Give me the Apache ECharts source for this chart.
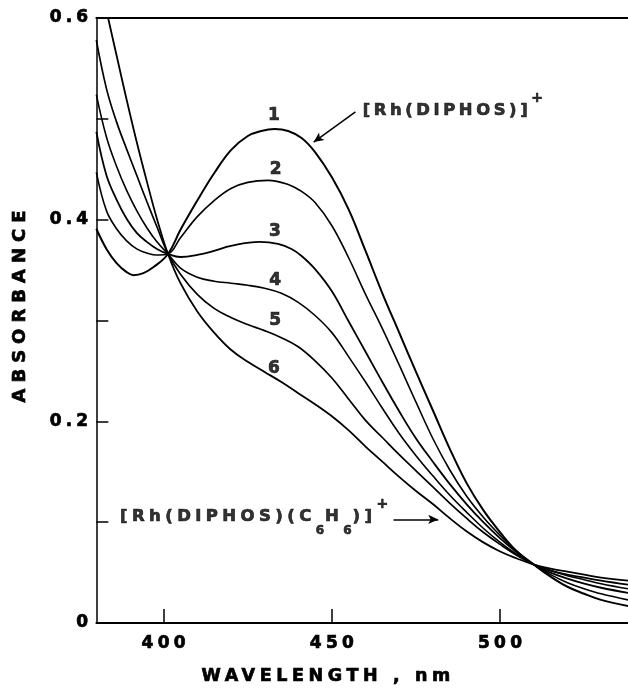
<!DOCTYPE html>
<html><head><meta charset="utf-8">
<script src="https://cdn.jsdelivr.net/npm/echarts@6/dist/echarts.min.js"></script>
<style>html,body{margin:0;padding:0;background:#fff}#c{width:628px;height:693px}</style>
</head><body><div id="c"></div>
<script>
// letter spacing for the wide, spaced bold lettering of the original figure (keyed by font size)
var SPACING = {'17': '4.2px', '18': '6px', '17.5': '4.6px', '16.4': '3.6px', '16.5': '4.4px'};
(function(){
  var proto = CanvasRenderingContext2D.prototype;
  var d = Object.getOwnPropertyDescriptor(proto,'font');
  if (!d || !('letterSpacing' in proto)) return;
  Object.defineProperty(proto,'font',{configurable:true,
    get:function(){return d.get.call(this);},
    set:function(v){
      d.set.call(this,v);
      var s='0px';
      if(/bold/.test(v)){
        var m=/([\d.]+)px/.exec(v);
        s = (m && SPACING[m[1]]) || '1px';
      }
      this.letterSpacing=s;
    }});
})();

var wl1 = [380, 383, 386, 389, 391, 394, 397, 401.3, 405, 410, 415, 420, 425, 429, 433, 437, 441, 445, 450, 455, 460, 465, 470, 475, 480, 485, 490, 495, 500, 505, 510, 515, 520, 525, 530, 538];
var abs1 = [0.391, 0.371, 0.357, 0.348, 0.345, 0.347, 0.353, 0.366, 0.390, 0.419, 0.446, 0.469, 0.483, 0.488, 0.490, 0.488, 0.481, 0.467, 0.442, 0.410, 0.369, 0.327, 0.288, 0.249, 0.211, 0.173, 0.139, 0.112, 0.090, 0.071, 0.058, 0.046, 0.036, 0.029, 0.023, 0.017];
var wl2 = [380, 383, 386, 389, 392, 395, 398, 401.3, 405, 410, 415, 420, 425, 431, 437, 441, 445, 450, 455, 460, 465, 470, 475, 480, 485, 490, 495, 500, 505, 510, 515, 520, 525, 530, 538];
var abs2 = [0.447, 0.409, 0.391, 0.379, 0.371, 0.367, 0.365, 0.366, 0.382, 0.403, 0.419, 0.431, 0.437, 0.439, 0.435, 0.428, 0.417, 0.394, 0.362, 0.326, 0.292, 0.256, 0.219, 0.183, 0.152, 0.126, 0.105, 0.087, 0.071, 0.058, 0.048, 0.040, 0.034, 0.029, 0.023];
var wl3 = [380, 383, 386, 389, 392, 395, 398, 401.3, 405, 410, 415, 420, 428.5, 434, 438, 441, 445, 450, 455, 460, 465, 470, 475, 480, 485, 490, 495, 500, 505, 510, 515, 520, 525, 530, 538];
var abs3 = [0.487, 0.444, 0.420, 0.401, 0.387, 0.378, 0.371, 0.366, 0.363, 0.365, 0.369, 0.374, 0.378, 0.376, 0.371, 0.364, 0.351, 0.329, 0.299, 0.269, 0.239, 0.210, 0.183, 0.160, 0.138, 0.118, 0.100, 0.084, 0.070, 0.058, 0.050, 0.044, 0.039, 0.035, 0.030];
var wl4 = [380, 383, 386, 389, 392, 395, 398, 401.3, 405, 410, 415, 420, 425, 430, 435, 440, 445, 450, 455, 460, 465, 470, 475, 480, 485, 490, 495, 500, 505, 510, 515, 520, 525, 530, 538];
var abs4 = [0.524, 0.482, 0.453, 0.429, 0.409, 0.392, 0.378, 0.366, 0.352, 0.343, 0.339, 0.337, 0.335, 0.332, 0.327, 0.318, 0.305, 0.288, 0.264, 0.239, 0.213, 0.188, 0.166, 0.146, 0.127, 0.110, 0.094, 0.080, 0.068, 0.058, 0.052, 0.047, 0.043, 0.039, 0.034];
var wl5 = [380, 383, 386, 389, 392, 395, 398, 401.3, 405, 410, 415, 420, 425, 430, 435, 440, 445, 450, 455, 460, 465, 470, 475, 480, 485, 490, 495, 500, 505, 510, 515, 520, 525, 530, 538];
var abs5 = [0.578, 0.530, 0.497, 0.470, 0.444, 0.418, 0.393, 0.366, 0.346, 0.326, 0.312, 0.303, 0.296, 0.290, 0.283, 0.274, 0.260, 0.243, 0.222, 0.201, 0.184, 0.167, 0.151, 0.135, 0.119, 0.104, 0.090, 0.078, 0.067, 0.058, 0.052, 0.048, 0.045, 0.042, 0.038];
var wl6 = [383.5, 386, 389, 392, 395, 398, 401.3, 405, 410, 415, 420, 425, 430, 435, 440, 445, 450, 455, 460, 465, 470, 475, 480, 485, 490, 495, 500, 505, 510, 515, 520, 525, 530, 538];
var abs6 = [0.600, 0.563, 0.519, 0.477, 0.438, 0.401, 0.366, 0.337, 0.309, 0.288, 0.271, 0.259, 0.249, 0.239, 0.228, 0.217, 0.205, 0.191, 0.175, 0.160, 0.145, 0.131, 0.118, 0.104, 0.091, 0.080, 0.071, 0.064, 0.058, 0.054, 0.051, 0.048, 0.045, 0.042];

var xTicks = [400, 450, 500];
var yTickLabels = [0, 0.2, 0.4, 0.6];
var yTicks = [0.1, 0.2, 0.3, 0.4, 0.5];

var curveLabels = ['1', '2', '3', '4', '5', '6'];
var curveLabelX = [432.8, 433.3, 433.1, 433.2, 433.2, 432.8];
var curveLabelY = [0.503, 0.450, 0.388, 0.3395, 0.300, 0.252];

var annText = ['{a|[Rh(DIPHOS)]}{p|+}', '{b|[Rh(DIPHOS)(C}{s|6}{b|H}{s|6}{b|)]}{q|+}'];
var annX = [459.0, 386.9];
var annY = [0.508, 0.105];
var arrowFrom = [[457.0, 0.507], [468.3, 0.1028]];
var arrowTo = [[444.6, 0.477], [481.6, 0.1028]];

var FONT = 'DejaVu Sans';
var INK = {color:'#000', fontFamily:FONT, fontWeight:'bold', textBorderColor:'#000', textBorderWidth:0.7};
function txt(extra){ var o = {}; for (var k in INK) o[k] = INK[k]; for (var j in extra) o[j] = extra[j]; return o; }
function pairs(w, a){ return w.map(function(x, i){ return [x, a[i]]; }); }

var wls = [wl1, wl2, wl3, wl4, wl5, wl6];
var abss = [abs1, abs2, abs3, abs4, abs5, abs6];
var widths = [2, 1.6, 1.8, 1.6, 1.7, 1.8];

var series = wls.map(function(w, i){
  return {type:'line', name:curveLabels[i], data:pairs(w, abss[i]), smooth:0.4, showSymbol:false, symbol:'none',
    lineStyle:{color:'#000', width:widths[i]}, silent:true, z:2};
});
series.push({
  type:'scatter', symbolSize:1, itemStyle:{color:'rgba(0,0,0,0)'}, silent:true, z:3,
  data: curveLabels.map(function(t, i){ return {value:[curveLabelX[i], curveLabelY[i]], name:t}; }),
  label:txt({show:true, position:'inside', formatter:'{b}', fontSize:17, padding:[0,0,0,4]})
});
series.push({
  type:'scatter', symbolSize:1, itemStyle:{color:'rgba(0,0,0,0)'}, silent:true, z:3,
  data: annText.map(function(t, i){ return {value:[annX[i], annY[i]], label:{formatter:t}}; }),
  label:{show:true, position:'right', distance:0, color:'#000',
    rich:{
      a:txt({fontSize:16.4, lineHeight:40}),
      p:txt({fontSize:14, lineHeight:8, verticalAlign:'top'}),
      b:txt({fontSize:16.5, lineHeight:40}),
      s:txt({fontSize:12, lineHeight:14, verticalAlign:'bottom'}),
      q:txt({fontSize:14, lineHeight:32, verticalAlign:'top'})
    }},
  markLine:{silent:true, symbol:['none','arrow'], symbolSize:[7,10], label:{show:false},
    lineStyle:{color:'#000', width:1.5, type:'solid'},
    data: arrowFrom.map(function(f, i){ return [{coord:f}, {coord:arrowTo[i]}]; })}
});

var chart = echarts.init(document.getElementById('c'));
chart.setOption({
  animation:false,
  backgroundColor:'#fff',
  grid:{left:95, top:18, right:0, bottom:66},
  xAxis:[{
    type:'value', min:380, max:538, position:'bottom',
    name:'WAVELENGTH , nm', nameLocation:'middle', nameGap:42,
    nameTextStyle:txt({fontSize:17.5, padding:[0,68,0,0]}),
    axisLine:{show:true, onZero:false, lineStyle:{color:'#000', width:2}},
    axisTick:{show:true, inside:true, length:14, customValues:xTicks, lineStyle:{color:'#000', width:1.5}},
    axisLabel:txt({show:true, customValues:xTicks, margin:10, fontSize:17, padding:[0,0,0,4]}),
    splitLine:{show:false}
  },{
    type:'value', min:380, max:538, position:'top',
    axisLine:{show:true, onZero:false, lineStyle:{color:'#000', width:2}},
    axisTick:{show:false}, axisLabel:{show:false}, splitLine:{show:false}
  }],
  yAxis:{
    type:'value', min:0, max:0.6,
    name:'ABSORBANCE', nameLocation:'middle', nameGap:64, nameRotate:90,
    nameTextStyle:txt({fontSize:18, padding:[0,0,0,34]}),
    axisLine:{show:true, onZero:false, lineStyle:{color:'#000', width:1.5}},
    axisTick:{show:true, inside:true, length:12, customValues:yTicks, lineStyle:{color:'#000', width:1.5}},
    axisLabel:txt({show:true, customValues:yTickLabels, margin:4, fontSize:17,
      formatter:function(v){ return v === 0 ? '0' : v.toFixed(1); }}),
    splitLine:{show:false}
  },
  series:series
});
</script></body></html>
